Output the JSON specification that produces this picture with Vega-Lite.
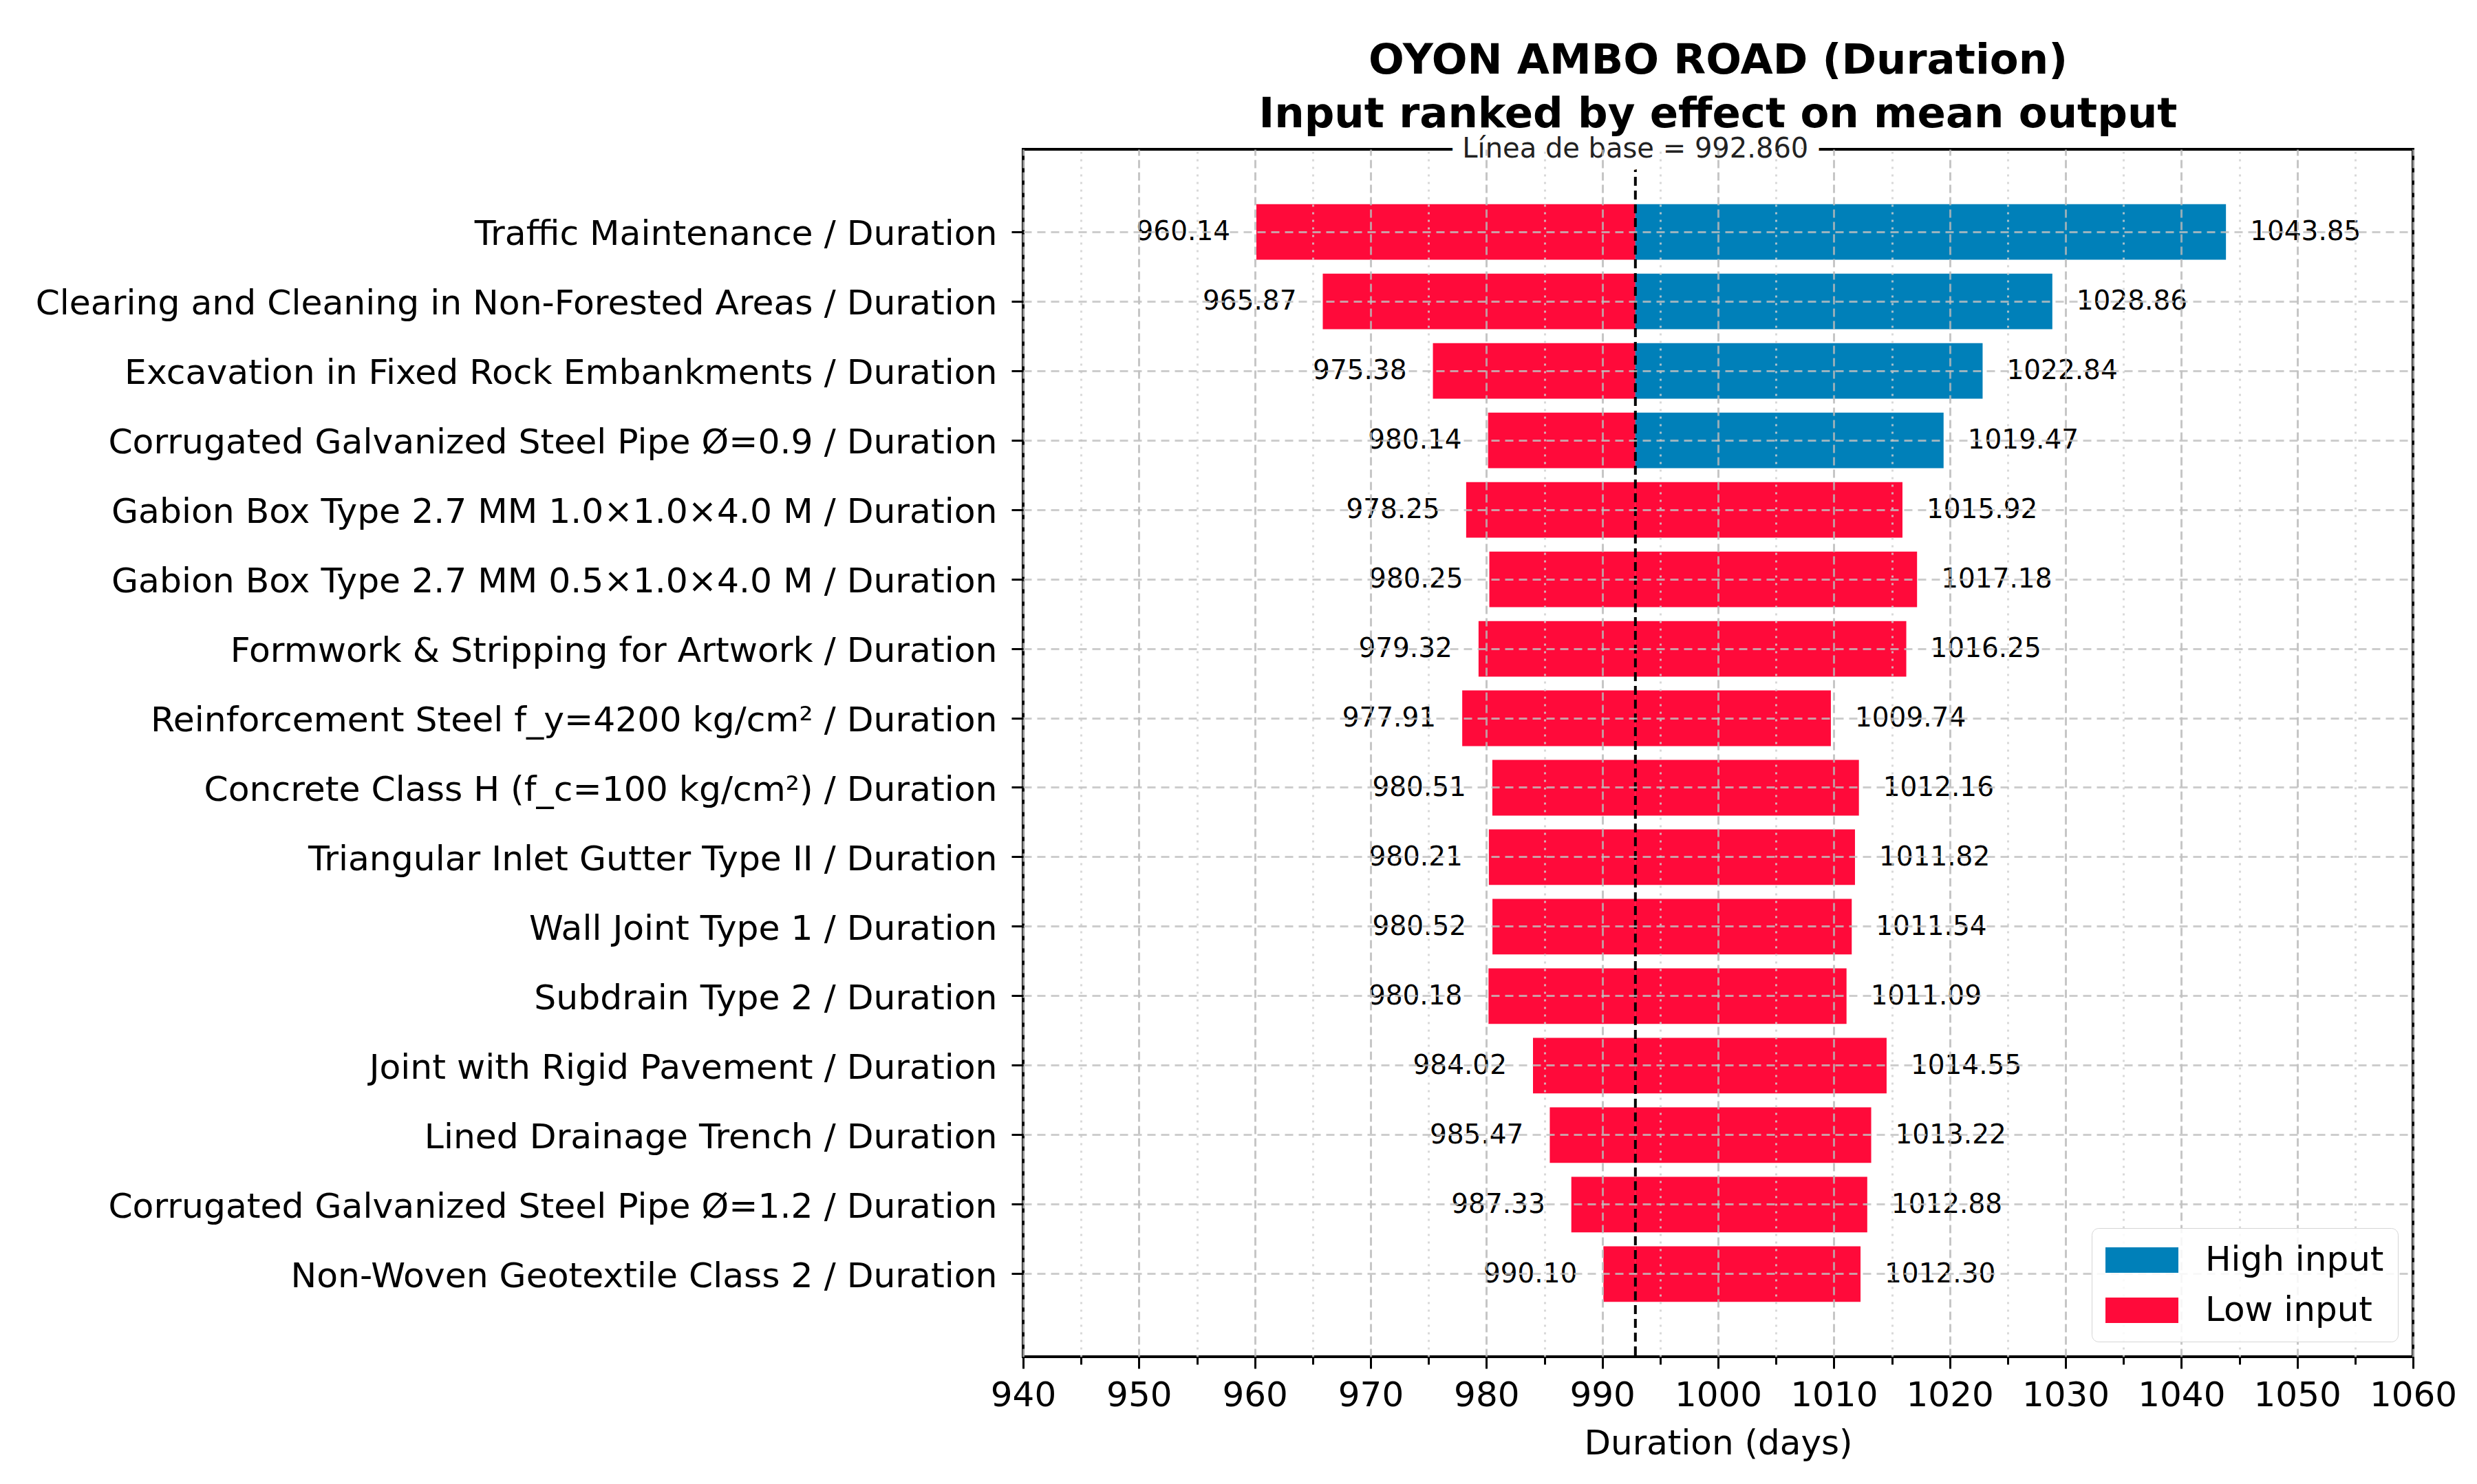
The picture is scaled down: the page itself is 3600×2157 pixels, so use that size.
{
  "$schema": "https://vega.github.io/schema/vega-lite/v6.json",
  "width": 2020,
  "height": 1755,
  "autosize": {"type": "none"},
  "padding": {"left": 1487, "top": 217, "right": 93, "bottom": 185},
  "background": "white",
  "config": {
    "font": "DejaVu Sans",
    "view": {"stroke": "black", "strokeWidth": 4}
  },
  "title": {
    "text": ["OYON AMBO ROAD (Duration)", "Input ranked by effect on mean output"],
    "fontSize": 61,
    "fontWeight": "bold",
    "font": "DejaVu Sans",
    "color": "black",
    "lineHeight": 78,
    "anchor": "middle",
    "frame": "group",
    "baseline": "bottom",
    "offset": -62
  },
  "data": {
    "values": [
      {"name": "Traffic Maintenance / Duration", "input": "Low input", "value": 960.14},
      {"name": "Traffic Maintenance / Duration", "input": "High input", "value": 1043.85},
      {"name": "Clearing and Cleaning in Non-Forested Areas / Duration", "input": "Low input", "value": 965.87},
      {"name": "Clearing and Cleaning in Non-Forested Areas / Duration", "input": "High input", "value": 1028.86},
      {"name": "Excavation in Fixed Rock Embankments / Duration", "input": "Low input", "value": 975.38},
      {"name": "Excavation in Fixed Rock Embankments / Duration", "input": "High input", "value": 1022.84},
      {"name": "Corrugated Galvanized Steel Pipe Ø=0.9 / Duration", "input": "Low input", "value": 980.14},
      {"name": "Corrugated Galvanized Steel Pipe Ø=0.9 / Duration", "input": "High input", "value": 1019.47},
      {"name": "Gabion Box Type 2.7 MM 1.0×1.0×4.0 M / Duration", "input": "Low input", "value": 978.25},
      {"name": "Gabion Box Type 2.7 MM 1.0×1.0×4.0 M / Duration", "input": "Low input", "value": 1015.92},
      {"name": "Gabion Box Type 2.7 MM 0.5×1.0×4.0 M / Duration", "input": "Low input", "value": 980.25},
      {"name": "Gabion Box Type 2.7 MM 0.5×1.0×4.0 M / Duration", "input": "Low input", "value": 1017.18},
      {"name": "Formwork & Stripping for Artwork / Duration", "input": "Low input", "value": 979.32},
      {"name": "Formwork & Stripping for Artwork / Duration", "input": "Low input", "value": 1016.25},
      {"name": "Reinforcement Steel f_y=4200 kg/cm² / Duration", "input": "Low input", "value": 977.91},
      {"name": "Reinforcement Steel f_y=4200 kg/cm² / Duration", "input": "Low input", "value": 1009.74},
      {"name": "Concrete Class H (f_c=100 kg/cm²) / Duration", "input": "Low input", "value": 980.51},
      {"name": "Concrete Class H (f_c=100 kg/cm²) / Duration", "input": "Low input", "value": 1012.16},
      {"name": "Triangular Inlet Gutter Type II / Duration", "input": "Low input", "value": 980.21},
      {"name": "Triangular Inlet Gutter Type II / Duration", "input": "Low input", "value": 1011.82},
      {"name": "Wall Joint Type 1 / Duration", "input": "Low input", "value": 980.52},
      {"name": "Wall Joint Type 1 / Duration", "input": "Low input", "value": 1011.54},
      {"name": "Subdrain Type 2 / Duration", "input": "Low input", "value": 980.18},
      {"name": "Subdrain Type 2 / Duration", "input": "Low input", "value": 1011.09},
      {"name": "Joint with Rigid Pavement / Duration", "input": "Low input", "value": 984.02},
      {"name": "Joint with Rigid Pavement / Duration", "input": "Low input", "value": 1014.55},
      {"name": "Lined Drainage Trench / Duration", "input": "Low input", "value": 985.47},
      {"name": "Lined Drainage Trench / Duration", "input": "Low input", "value": 1013.22},
      {"name": "Corrugated Galvanized Steel Pipe Ø=1.2 / Duration", "input": "Low input", "value": 987.33},
      {"name": "Corrugated Galvanized Steel Pipe Ø=1.2 / Duration", "input": "Low input", "value": 1012.88},
      {"name": "Non-Woven Geotextile Class 2 / Duration", "input": "Low input", "value": 990.10},
      {"name": "Non-Woven Geotextile Class 2 / Duration", "input": "Low input", "value": 1012.30}
    ]
  },
  "layer": [
    {
      "mark": {"type": "bar"},
      "encoding": {
        "y": {
          "field": "name",
          "type": "nominal",
          "sort": null,
          "scale": {"paddingInner": 0.2, "paddingOuter": 0.79},
          "axis": {
            "title": null,
            "bandPosition": 0.5,
            "labelFontSize": 50.4,
            "labelColor": "black",
            "labelPadding": 21,
            "labelOffset": 4,
            "labelLimit": 3000,
            "tickSize": 17,
            "tickWidth": 3,
            "tickColor": "black",
            "domain": false,
            "grid": true,
            "gridColor": "#c0c0c0",
            "gridOpacity": 0.8,
            "gridWidth": 3,
            "gridDash": [12, 8],
            "zindex": 1
          }
        },
        "x": {
          "field": "value",
          "type": "quantitative",
          "scale": {"domain": [940, 1060], "nice": false, "zero": false},
          "axis": {
            "values": [940, 945, 950, 955, 960, 965, 970, 975, 980, 985, 990, 995, 1000, 1005, 1010, 1015, 1020, 1025, 1030, 1035, 1040, 1045, 1050, 1055, 1060],
            "format": "d",
            "labelExpr": "datum.value % 10 === 0 ? datum.label : ''",
            "labelFontSize": 50,
            "labelColor": "black",
            "labelPadding": 14,
            "labelFlush": false,
            "labelOverlap": false,
            "tickSize": {"condition": {"test": "datum.value % 10 === 0", "value": 17}, "value": 11},
            "tickWidth": 3,
            "tickColor": "black",
            "domain": false,
            "grid": true,
            "gridColor": {"condition": {"test": "datum.value % 10 === 0", "value": "#b8b8b8"}, "value": "#cfcfcf"},
            "gridDash": {"condition": {"test": "datum.value % 10 === 0", "value": [12, 6]}, "value": [3, 8]},
            "gridWidth": 3,
            "gridOpacity": 0.8,
            "zindex": 1,
            "title": "Duration (days)",
            "titleFontSize": 50,
            "titleFontWeight": "normal",
            "titleColor": "black",
            "titlePadding": 20
          }
        },
        "x2": {"datum": 992.86},
        "color": {
          "field": "input",
          "type": "nominal",
          "scale": {"domain": ["High input", "Low input"], "range": ["#0080b9", "#ff0a3a"]},
          "legend": {
            "title": null,
            "orient": "bottom-right",
            "offset": 22,
            "labelFontSize": 50,
            "labelColor": "black",
            "labelLimit": 1000,
            "symbolType": "M-1,-0.7H3V0.7H-1Z",
            "symbolSize": 2809,
            "symbolStrokeWidth": 0,
            "symbolOpacity": 1,
            "labelOffset": 92,
            "rowPadding": 21,
            "padding": 20,
            "strokeColor": "#d5d5d5",
            "fillColor": "rgba(255,255,255,0.85)",
            "cornerRadius": 10,
            "zindex": 2
          }
        }
      }
    },
    {
      "mark": {"type": "text", "fontSize": 39, "align": "right", "baseline": "middle", "dx": -38, "color": "black"},
      "transform": [{"filter": "datum.value < 992.86"}],
      "encoding": {
        "y": {"field": "name", "type": "nominal", "sort": null},
        "x": {"field": "value", "type": "quantitative"},
        "text": {"field": "value", "type": "quantitative", "format": ".2f"}
      }
    },
    {
      "mark": {"type": "text", "fontSize": 39, "align": "left", "baseline": "middle", "dx": 35, "color": "black"},
      "transform": [{"filter": "datum.value > 992.86"}],
      "encoding": {
        "y": {"field": "name", "type": "nominal", "sort": null},
        "x": {"field": "value", "type": "quantitative"},
        "text": {"field": "value", "type": "quantitative", "format": ".2f"}
      }
    },
    {
      "data": {"values": [{"baseline": 992.86, "label": "Línea de base = 992.860"}]},
      "layer": [
        {
          "mark": {"type": "rule", "color": "black", "strokeWidth": 4, "strokeDash": [13, 7]},
          "encoding": {"x": {"field": "baseline", "type": "quantitative"}}
        },
        {
          "mark": {"type": "text", "fontSize": 40, "align": "center", "baseline": "middle", "fill": "white", "stroke": "white", "strokeWidth": 36, "strokeJoin": "round"},
          "encoding": {
            "x": {"field": "baseline", "type": "quantitative"},
            "y": {"value": 0},
            "text": {"field": "label", "type": "nominal"}
          }
        },
        {
          "mark": {"type": "text", "fontSize": 40, "align": "center", "baseline": "middle", "color": "#222222"},
          "encoding": {
            "x": {"field": "baseline", "type": "quantitative"},
            "y": {"value": 0},
            "text": {"field": "label", "type": "nominal"}
          }
        }
      ]
    }
  ]
}
